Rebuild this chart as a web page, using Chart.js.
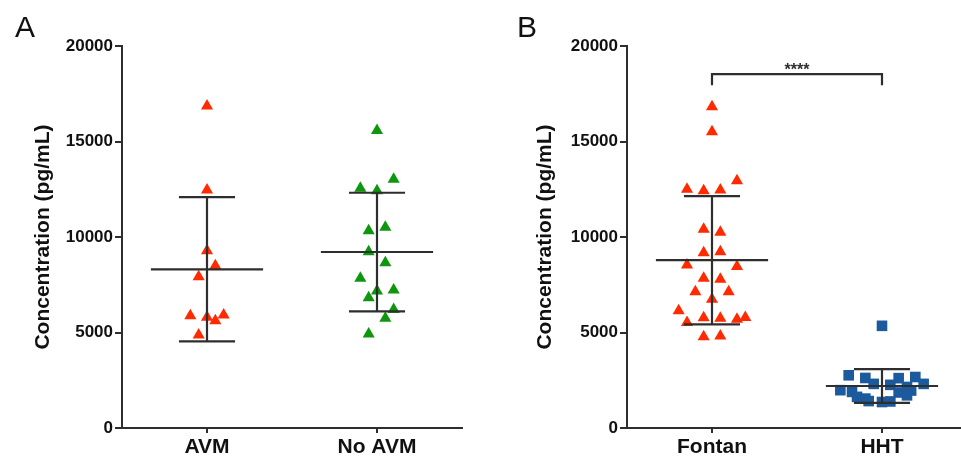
<!DOCTYPE html>
<html>
<head>
<meta charset="utf-8">
<script src="https://cdn.jsdelivr.net/npm/chart.js@4/dist/chart.umd.min.js"></script>
<style>
  html, body { margin: 0; padding: 0; background: #fff; overflow: hidden; }
  #wrapA { position: absolute; left: 0; top: 0; width: 480px; height: 459px; }
  #wrapB { position: absolute; left: 502px; top: 0; width: 480px; height: 459px; }
</style>
</head>
<body>
<div id="wrapA"><canvas id="chartA" width="480" height="459"></canvas></div>
<div id="wrapB"><canvas id="chartB" width="480" height="459"></canvas></div>
<script>
// categories
const groupsA = ['AVM', 'No AVM'];
const groupsB = ['Fontan', 'HHT'];
const yTicks = [0, 5000, 10000, 15000, 20000];

// values (pg/mL), with the sideways spread of each point
const avm = [16860, 12460, 9280, 8500, 7920, 5880, 5795, 5915, 5620, 4870];
const avmSpread = [0, 0, 0, 1, -1, -2, 0, 2, 1, -1];
const noAvm = [15570, 13020, 12550, 12420, 10330, 10510, 9230, 8650, 7840, 7170, 7225, 6820, 6210, 5740, 4920];
const noAvmSpread = [0, 2, -2, 0, -1, 1, -1, 1, -2, 0, 2, -1, 2, 1, -1];
const fontan = [16820, 15510, 12950, 12500, 12420, 12460, 10400, 10250, 9180, 9230, 8530, 8450, 7840,
  7790, 7140, 7140, 6740, 6140, 5530, 5775, 5740, 5690, 5790, 4780, 4815];
const fontanSpread = [0, 0, 3, -3, -1, 1, -1, 1, -1, 1, -3, 3, -1, 1, -2, 2, 0, -4, -3, -1, 1, 3, 4, -1, 1];
const hht = [5350, 2760, 2620, 2610, 2670, 2310, 2260, 2310, 2150, 1980, 1890, 1860, 1960, 1630, 1540,
  1710, 1410, 1360, 1390];
const hhtSpread = [0, -4, -2, 2, 4, -1, 1, 5, 3, -5, -3.6, 2, 3.5, -3, -2, 3, -1.6, 0, 1];
const significance = '****';

const step = 0.049;
const font = '"Liberation Sans", Arial, Helvetica, sans-serif';
const ink = '#2e2e2e';

function points(values, spread, c) {
    return values.map(function (v, i) { return { x: c + spread[i] * step, y: v }; });
}

// mean with SD bars, as line segments separated by gaps
function summary(values, c) {
    const n = values.length;
    const mean = values.reduce(function (a, b) { return a + b; }, 0) / n;
    const sd = Math.sqrt(values.reduce(function (a, b) { return a + (b - mean) * (b - mean); }, 0) / (n - 1));
    return [
        { x: c - 0.33, y: mean }, { x: c + 0.33, y: mean }, { x: c, y: null },
        { x: c - 0.165, y: mean + sd }, { x: c + 0.165, y: mean + sd }, { x: c, y: null },
        { x: c - 0.165, y: mean - sd }, { x: c + 0.165, y: mean - sd }, { x: c, y: null },
        { x: c, y: mean - sd }, { x: c, y: mean + sd }
    ];
}

function lineSet(data) {
    return {
        data: data, showLine: true, spanGaps: false, pointRadius: 0,
        borderColor: ink, borderWidth: 2.2, order: 0
    };
}

function dotSet(data, color, style, radius) {
    return {
        data: data, pointStyle: style, pointRadius: radius, pointBackgroundColor: color,
        pointBorderColor: color, pointBorderWidth: 0, showLine: false, order: 1
    };
}

const letterPlugin = {
    id: 'letter',
    afterDraw: function (chart) {
        const ctx = chart.ctx;
        ctx.save();
        ctx.font = '30px ' + font;
        ctx.fillStyle = '#111';
        ctx.textBaseline = 'alphabetic';
        ctx.fillText(chart.options.plugins.letter.text, 15, 37);
        const mark = chart.options.plugins.letter.mark;
        if (mark) {
            ctx.font = 'bold 16px ' + font;
            ctx.textAlign = 'center';
            ctx.fillStyle = ink;
            ctx.fillText(mark.text, chart.scales.x.getPixelForValue(1), chart.scales.y.getPixelForValue(mark.y) + 1);
        }
        ctx.restore();
    }
};

function buildOptions(cats, yWidth, padRight, letter, mark) {
    return {
        responsive: false,
        animation: false,
        layout: { padding: { top: 46, right: padRight, left: 0, bottom: 0 } },
        plugins: {
            legend: { display: false },
            tooltip: { enabled: false },
            letter: { text: letter, mark: mark }
        },
        scales: {
            x: {
                type: 'linear', min: 0, max: 2,
                afterBuildTicks: function (s) { s.ticks = [{ value: 0.5 }, { value: 1.5 }]; },
                afterFit: function (s) { s.height = 31; },
                border: { display: true, color: ink, width: 2 },
                grid: { drawOnChartArea: false, drawTicks: true, tickLength: 5, color: ink, lineWidth: 2 },
                ticks: {
                    padding: 2, color: '#111', maxRotation: 0, autoSkip: false,
                    font: { family: font, size: 21, weight: 'bold' },
                    callback: function (v, i) { return cats[i]; }
                }
            },
            y: {
                min: 0, max: 20000,
                afterBuildTicks: function (s) { s.ticks = yTicks.map(function (v) { return { value: v }; }); },
                afterFit: function (s) { s.width = yWidth; },
                border: { display: true, color: ink, width: 2 },
                grid: { drawOnChartArea: false, drawTicks: true, tickLength: 7, color: ink, lineWidth: 2 },
                ticks: {
                    padding: 2, color: '#111', autoSkip: false,
                    font: { family: font, size: 17, weight: 'bold' },
                    callback: function (v) { return String(v); }
                },
                title: {
                    display: true, text: 'Concentration (pg/mL)', color: '#111',
                    font: { family: font, size: 21, weight: 'bold' },
                    padding: { top: 31, bottom: 0 }
                }
            }
        }
    };
}

new Chart(document.querySelector('#chartA'), {
    type: 'scatter',
    data: {
        datasets: [
            lineSet(summary(avm, 0.5)),
            lineSet(summary(noAvm, 1.5)),
            dotSet(points(avm, avmSpread, 0.5), '#ff2a00', 'triangle', 7),
            dotSet(points(noAvm, noAvmSpread, 1.5), '#0e960e', 'triangle', 7)
        ]
    },
    options: buildOptions(groupsA, 122, 18, 'A', null),
    plugins: [letterPlugin]
});

const bracketTop = 18530;
const bracketFoot = 17950;

new Chart(document.querySelector('#chartB'), {
    type: 'scatter',
    data: {
        datasets: [
            lineSet(summary(fontan, 0.5)),
            lineSet(summary(hht, 1.5)),
            lineSet([{ x: 0.5, y: bracketFoot }, { x: 0.5, y: bracketTop }, { x: 1.5, y: bracketTop }, { x: 1.5, y: bracketFoot }]),
            dotSet(points(fontan, fontanSpread, 0.5), '#ff2a00', 'triangle', 7),
            dotSet(points(hht, hhtSpread, 1.5), '#1c5a9e', 'rect', 7.5)
        ]
    },
    options: buildOptions(groupsB, 125, 15, 'B', { text: significance, y: bracketTop }),
    plugins: [letterPlugin]
});
</script>
</body>
</html>
